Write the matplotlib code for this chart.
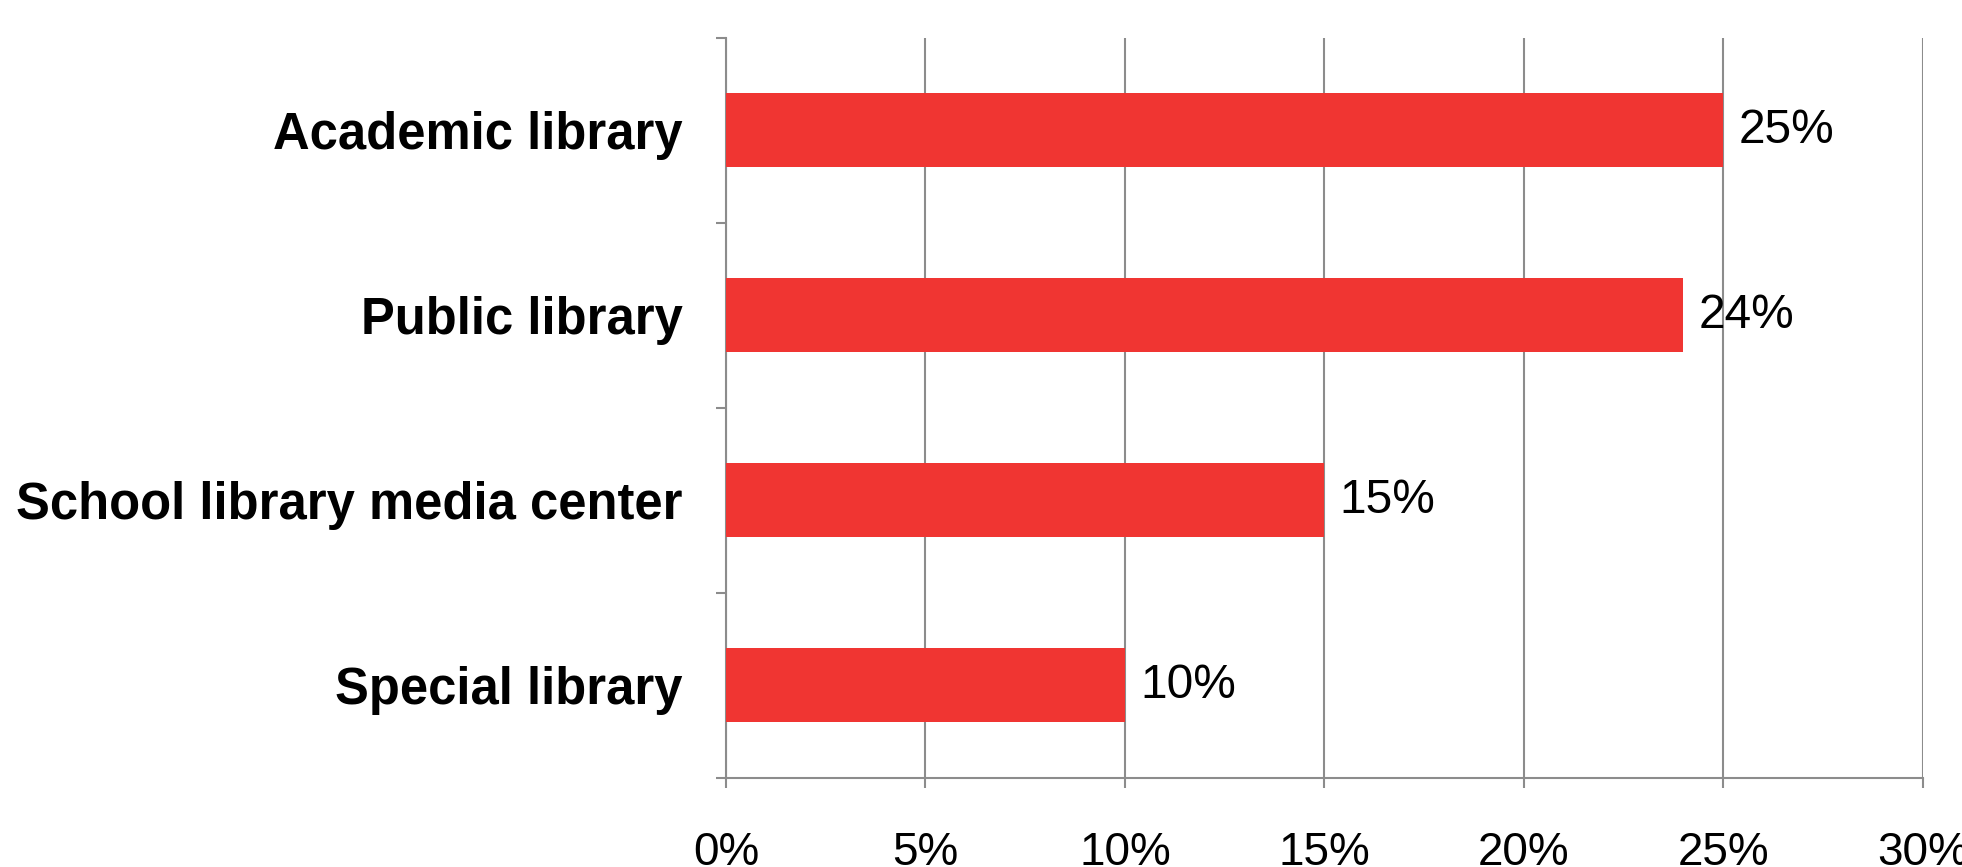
import numpy as np
import matplotlib
matplotlib.use("Agg")
from matplotlib import pyplot as plt
from matplotlib.ticker import FixedLocator

plt.rcParams['font.family'] = ['Liberation Sans', 'DejaVu Sans']

categories = ["Academic library", "Public library", "School library media center", "Special library"]
values = [25, 24, 15, 10]
xticks = [0, 5, 10, 15, 20, 25, 30]
xtick_labels = ["0%", "5%", "10%", "15%", "20%", "25%", "30%"]

bar_color = "#F03532"
grid_color = "#8C8C8C"

fig = plt.figure(figsize=(19.62, 8.67), dpi=100)
ax = fig.add_axes([0.370, 0.1027, 0.610, 0.854])

y = np.arange(len(categories))
ax.barh(y, values, height=0.4, color=bar_color, zorder=3)

for yi, v in zip(y, values):
    ax.text(v + 0.38, yi, "%d%%" % v, va="center", ha="left", fontsize=34.5, zorder=4)

ax.set_xlim(0, 30)
ax.set_ylim(len(categories) - 0.5, -0.5)

ax.set_xticks(xticks)
ax.set_xticklabels(xtick_labels, fontsize=33)
ax.set_yticks(y)
ax.set_yticklabels(categories, fontsize=36.5, fontweight="bold")
ax.yaxis.set_minor_locator(FixedLocator(np.arange(-0.5, len(categories), 1.0)))

ax.tick_params(axis="y", which="major", length=0, pad=31)
ax.tick_params(axis="y", which="minor", length=7, width=1.5, color=grid_color)
ax.tick_params(axis="x", which="major", length=7, width=1.5, color=grid_color, pad=31)

ax.xaxis.grid(True, color=grid_color, linewidth=1.5, zorder=0)
for s in ["top", "right"]:
    ax.spines[s].set_visible(False)
for s in ["left", "bottom"]:
    ax.spines[s].set_color(grid_color)
    ax.spines[s].set_linewidth(1.5)

fig.savefig("out.png", dpi=100)
